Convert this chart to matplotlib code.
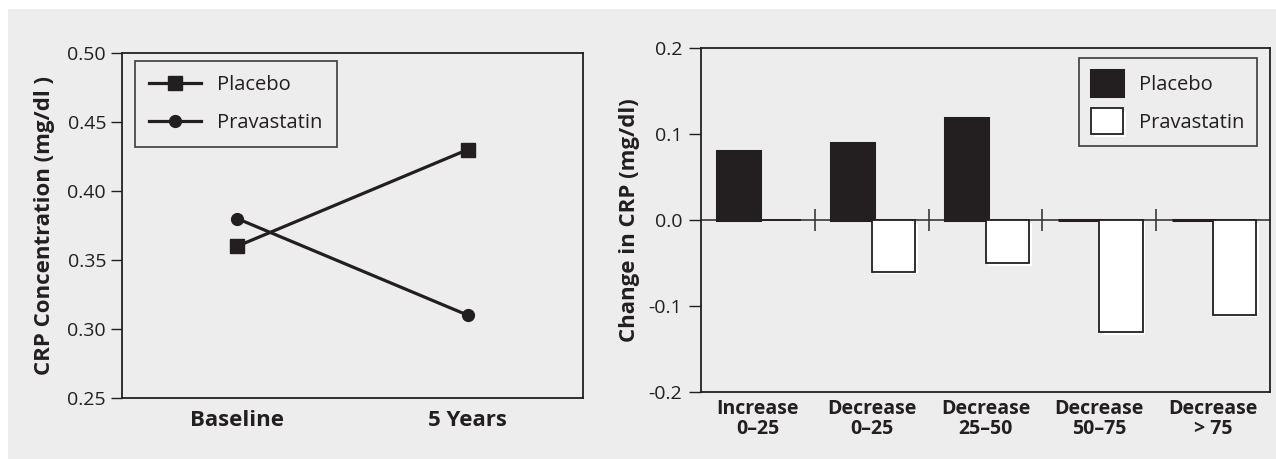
import matplotlib
matplotlib.use("Agg")
import matplotlib.pyplot as plt
import matplotlib.patheffects as pe
from matplotlib.patches import Rectangle
import numpy as np

plt.rcParams['font.family'] = ['Open Sans', 'DejaVu Sans']
plt.rcParams['axes.unicode_minus'] = False

INK = '#231f20'
BG = '#ededed'

# Left panel: CRP concentration over time
time_points = ['Baseline', '5 Years']
placebo_conc = [0.36, 0.43]
prava_conc = [0.38, 0.31]
conc_ticks = [0.25, 0.30, 0.35, 0.40, 0.45, 0.50]

# Right panel: change in CRP by LDL change category
groups = ['Increase\n0–25', 'Decrease\n0–25', 'Decrease\n25–50', 'Decrease\n50–75', 'Decrease\n> 75']
placebo_change = [0.08, 0.09, 0.118, 0.0, 0.0]
prava_change = [0.0, -0.06, -0.05, -0.13, -0.11]
change_ticks = [-0.2, -0.1, 0.0, 0.1, 0.2]

fig = plt.figure(figsize=(12.76, 4.59), dpi=100)
fig.patch.set_facecolor('white')
fig.patches.append(Rectangle((8 / 1276, 0), 1, (459 - 9) / 459,
                             transform=fig.transFigure, facecolor=BG,
                             edgecolor='none', zorder=-10))

# ---- left panel ----
ax1 = fig.add_axes([0.0956, 0.1329, 0.3613, 0.7516])
ax1.set_facecolor(BG)
x = np.arange(len(time_points))
ax1.plot(x, placebo_conc, color=INK, lw=2.3, marker='s', ms=10.5, label='Placebo')
ax1.plot(x, prava_conc, color=INK, lw=2.3, marker='o', ms=8.5, label='Pravastatin')
ax1.set_xlim(-0.5, 1.5)
ax1.set_ylim(0.25, 0.50)
ax1.set_yticks(conc_ticks)
ax1.set_yticklabels([f'{v:.2f}' for v in conc_ticks], fontsize=14, color=INK)
ax1.set_xticks(x)
ax1.set_xticklabels(time_points, fontsize=16, fontweight='bold', color=INK)
ax1.tick_params(axis='y', length=8, width=1.0, color=INK, pad=3.5, direction='out')
ax1.tick_params(axis='x', length=0, pad=9)
for s in ax1.spines.values():
    s.set_color(INK)
    s.set_linewidth(1.3)
ax1.set_ylabel('CRP Concentration (mg/dl )', fontsize=16, fontweight='bold', color=INK)
ax1.yaxis.set_label_coords(-0.145, 0.5)
leg1 = ax1.legend(loc='upper left', bbox_to_anchor=(0.028, 0.977), borderaxespad=0,
                  fontsize=14.5, frameon=True, fancybox=False, handlelength=2.6,
                  handletextpad=0.8, borderpad=0.7, labelspacing=0.9)
leg1.get_frame().set_edgecolor(INK)
leg1.get_frame().set_linewidth(1.3)
leg1.get_frame().set_facecolor(BG)
for t in leg1.get_texts():
    t.set_color(INK)

# ---- right panel ----
ax2 = fig.add_axes([0.5494, 0.1460, 0.4459, 0.7495])
ax2.set_facecolor(BG)
gx = np.arange(len(groups))
w = 0.38
ax2.bar(gx - 0.17, placebo_change, width=w, color=INK, edgecolor=INK, lw=2.2,
        label='Placebo', zorder=3)
shadow = [pe.SimplePatchShadow(offset=(2, -2), shadow_rgbFace='white', alpha=1.0), pe.Normal()]
ax2.bar(gx + 0.19, prava_change, width=w, color='white', edgecolor=INK, lw=1.3,
        label='Pravastatin', zorder=3, path_effects=shadow)
ax2.axhline(0, color='#3a3a3a', lw=1.2, zorder=2)
ax2.vlines(gx[:-1] + 0.5, -0.013, 0.013, color='#3a3a3a', lw=1.2, zorder=2)
ax2.set_xlim(-0.5, len(groups) - 0.5)
ax2.set_ylim(-0.2, 0.2)
ax2.set_yticks(change_ticks)
ax2.set_yticklabels([f'{v:.1f}' for v in change_ticks], fontsize=14, color=INK)
ax2.set_xticks(gx)
ax2.set_xticklabels(groups, fontsize=14, fontweight='bold', color=INK, linespacing=1.0)
ax2.tick_params(axis='y', length=8.5, width=1.0, color=INK, pad=5, direction='out')
ax2.tick_params(axis='x', length=0, pad=5)
for s in ax2.spines.values():
    s.set_color(INK)
    s.set_linewidth(1.3)
ax2.set_ylabel('Change in CRP (mg/dl)', fontsize=16, fontweight='bold', color=INK)
ax2.yaxis.set_label_coords(-0.107, 0.5)
leg2 = ax2.legend(loc='upper right', bbox_to_anchor=(0.977, 0.971), borderaxespad=0,
                  fontsize=14.5, frameon=True, fancybox=False, handlelength=1.6,
                  handleheight=1.6, handletextpad=0.8, borderpad=0.6, labelspacing=0.6)
leg2.get_frame().set_edgecolor(INK)
leg2.get_frame().set_linewidth(1.3)
leg2.get_frame().set_facecolor(BG)
for t in leg2.get_texts():
    t.set_color(INK)

fig.savefig('out.png', dpi=100, facecolor=fig.get_facecolor())
